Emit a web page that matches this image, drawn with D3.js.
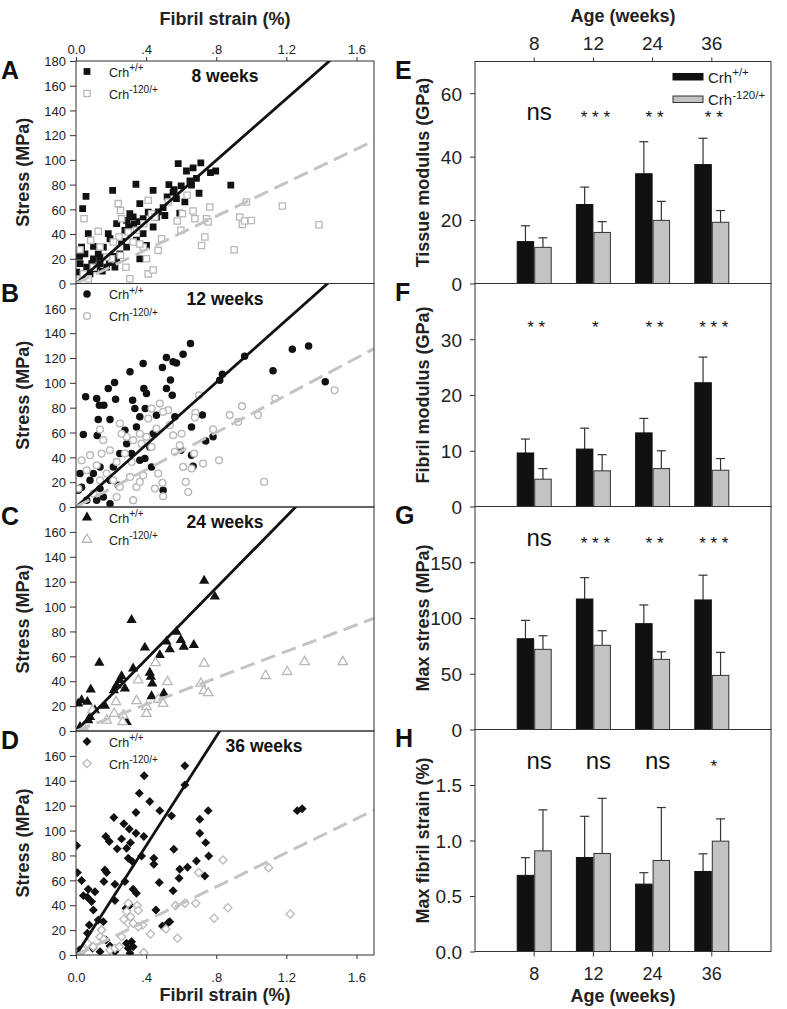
<!DOCTYPE html>
<html><head><meta charset="utf-8">
<script src="https://cdn.jsdelivr.net/npm/d3@7"></script>
<style>body{margin:0;background:#fff} svg{display:block} text{font-family:'Liberation Sans',Arial,sans-serif}</style>
</head><body>
<script>
// ---------------- DATA ----------------
const strainTicks = [0, 0.4, 0.8, 1.2, 1.6];
const strainTickLabels = ["0.0", ".4", ".8", "1.2", "1.6"];
const stressTicksFirst = [0,20,40,60,80,100,120,140,160,180];
const stressTicks = [0,20,40,60,80,100,120,140,160];
const ageTitles = ["8 weeks","12 weeks","24 weeks","36 weeks"];
const leftLetters = ["A","B","C","D"];
const rightLetters = ["E","F","G","H"];
const seriesNames = ["Crh", "Crh"];
const seriesSup = ["+/+", "-120/+"];

// [fibril strain %, stress MPa]
const wt8 = [[0.057,70.5],[0.038,60.5],[0.209,75.4],[0.342,80.3],[0.44,75.4],[0.53,80],[0.583,97],[0.63,91],[0.668,93.5],[0.712,97.6],[0.687,85],[0.702,73],[0.659,79.5],[0.767,89.7],[0.797,91],[0.883,79.5],[0.554,74],[0.573,68.6],[0.621,66],[0.592,57],[0.497,61.4],[0.507,55],[0.412,57.8],[0.364,64.6],[0.307,56.5],[0.289,51],[0.232,48.4],[0.184,40.3],[0.194,36.2],[0.326,53.8],[0.383,52.4],[0.44,45.7],[0.459,53.8],[0.156,29.5],[0.127,24],[0.099,20],[0.07,40.3],[0.032,29.5],[0.051,24],[0.023,16],[0.004,9.2],[0.061,13.2],[0.108,11.9],[0.137,16],[0.175,13.2],[0.08,7.8],[0.232,18.6],[0.25,24],[0.289,29.5],[0.345,35],[0.383,40.3],[0.222,13.2],[0.279,43],[0.137,21.4],[0.402,30.8],[0.364,20],[0.042,7.8],[0.07,10.5],[0.3,46],[0.33,48],[0.36,50],[0.47,58],[0.52,70],[0.56,76],[0.6,79],[0.65,83],[0.1,30],[0.12,14],[0.15,10],[0.19,17],[0.21,22],[0.26,34],[0.02,22],[0.09,16]];
const mut8 = [[0.046,52.4],[0.023,27.3],[0.084,34.9],[0.127,42.2],[0.241,64.6],[0.254,59],[0.26,52.4],[0.245,37.6],[0.213,33.5],[0.203,20],[0.254,22.7],[0.285,13.2],[0.307,3.8],[0.345,43],[0.387,48.4],[0.412,67.3],[0.431,56.5],[0.45,53.8],[0.402,20],[0.412,7.8],[0.44,11],[0.383,29.5],[0.364,32],[0.469,26.8],[0.488,36.2],[0.526,66],[0.577,50.5],[0.598,43],[0.607,56.5],[0.634,71.4],[0.668,58.6],[0.678,52.4],[0.716,30.8],[0.735,37.6],[0.744,52.4],[0.763,61.9],[0.754,49.7],[0.902,27.3],[0.972,66],[0.934,53.8],[0.949,47.8],[0.962,50.5],[1.0,51],[1.177,62.7],[1.386,47.6],[0.042,7.8],[0.07,3.8],[0.004,2.4],[0.137,29.5],[0.175,21.4],[0.099,13.2],[0.298,41.6],[0.326,33.5]];
const wt12 = [[0.055,88.7],[0.042,58.3],[0.118,87.4],[0.133,82],[0.159,82],[0.184,95.4],[0.22,100.3],[0.226,86.8],[0.194,70.4],[0.127,70.4],[0.121,57.5],[0.308,108.9],[0.323,86],[0.336,79.3],[0.345,64.5],[0.383,115.6],[0.387,95.4],[0.402,91.4],[0.395,79.3],[0.364,72.6],[0.459,73.9],[0.493,112.4],[0.516,120.4],[0.539,102.2],[0.549,90],[0.554,117],[0.573,116],[0.611,123],[0.653,131.7],[0.516,95.4],[0.564,72.6],[0.659,64.5],[0.721,74],[0.74,53.2],[0.782,56.5],[0.82,102],[0.835,107],[0.962,121.5],[1.124,109.7],[1.234,127],[1.327,129.6],[1.422,100.8],[0.659,41.7],[0.668,32.8],[0.598,45.7],[0.497,13.4],[0.431,32.3],[0.364,37.6],[0.289,51],[0.279,61.8],[0.317,43],[0.25,43],[0.213,32.3],[0.194,21.5],[0.137,32.3],[0.099,26.9],[0.023,26.9],[0.013,13.4],[0.032,16],[0.061,5.4],[0.118,5.4],[0.156,8],[0.194,2.7],[0.241,17.5],[0.137,14.8],[0.08,21.5],[0.421,48.4],[0.326,5.4],[0.44,59],[0.393,39]];
const mut12 = [[1.475,94],[1.073,20.2],[1.038,74],[0.947,81.2],[0.877,74],[0.925,68.5],[1.137,87.4],[0.816,37.6],[0.782,62.6],[0.725,35],[0.702,90],[0.681,75.8],[0.678,72],[0.674,43],[0.659,31],[0.64,12],[0.626,20.2],[0.611,32.3],[0.602,59],[0.592,49.7],[0.564,44.4],[0.554,57.8],[0.535,65.9],[0.526,78],[0.478,83.3],[0.497,76.6],[0.459,63.2],[0.493,19.4],[0.497,8.6],[0.45,14.8],[0.469,26.9],[0.431,48.4],[0.412,71.2],[0.402,56.5],[0.374,51],[0.364,59],[0.326,53.8],[0.289,56.5],[0.25,67.2],[0.26,59],[0.232,36.3],[0.194,45.7],[0.156,53.8],[0.146,43],[0.137,62.4],[0.08,41.7],[0.032,37.6],[0.013,14.8],[0.061,29.6],[0.118,33.6],[0.175,26.9],[0.213,21.5],[0.25,16.1],[0.308,24.2],[0.345,16.1],[0.364,20.2],[0.383,25.5],[0.326,5.4],[0.232,8],[0.099,10.8],[0.137,21.5],[0.279,43],[0.317,36.3],[0.431,79.3]];
const wt24 = [[0.013,22],[0.032,24.7],[0.065,23.4],[0.084,33.3],[0.133,54.8],[0.08,11.3],[0.108,16.7],[0.165,20.2],[0.216,32.8],[0.232,36.8],[0.26,44],[0.279,34.1],[0.317,89.2],[0.326,50.3],[0.393,67],[0.421,46.8],[0.427,43.5],[0.435,38.2],[0.431,28],[0.478,61],[0.501,30.1],[0.516,71.8],[0.535,65.6],[0.573,79.8],[0.598,73.1],[0.615,67.7],[0.672,69.1],[0.731,120.7],[0.792,108],[0.289,7.3],[0.07,8.6],[0.023,3.2],[0.25,40.9]];
const mut24 = [[0.093,16.7],[0.218,14],[0.228,23.4],[0.27,12.6],[0.266,7.3],[0.345,24.2],[0.355,40.9],[0.402,19.4],[0.402,14],[0.454,54.8],[0.469,25.3],[0.497,22],[0.522,39.5],[0.712,38.2],[0.731,54.3],[0.729,32.3],[0.754,30.6],[1.082,44.4],[1.205,47.6],[1.304,55.6],[1.522,55.6],[0.175,8.6],[0.042,3.2]];
const wt36 = [[0.004,87.9],[0.008,66.2],[0.032,59.8],[0.042,47.7],[0.065,46.4],[0.07,52.8],[0.108,50.9],[0.089,42.9],[0.099,36.2],[0.076,24.1],[0.065,17.4],[0.127,28.2],[0.156,26.8],[0.146,20.1],[0.165,68.4],[0.175,66.2],[0.159,59],[0.17,95.2],[0.19,91.2],[0.216,110.5],[0.222,56.8],[0.222,43.7],[0.235,85.3],[0.26,93.3],[0.273,105.4],[0.289,85.8],[0.298,77.7],[0.304,101.3],[0.311,90.3],[0.323,75],[0.279,59],[0.326,52.8],[0.345,49.6],[0.342,97.9],[0.361,130],[0.342,114.5],[0.374,79.6],[0.387,95.2],[0.389,144],[0.421,123.3],[0.444,77.7],[0.444,72.9],[0.456,36.2],[0.478,116],[0.475,58.2],[0.493,23.3],[0.526,26],[0.545,111.8],[0.558,85],[0.554,51.7],[0.588,61.7],[0.592,68.9],[0.621,136.7],[0.621,152],[0.636,70.5],[0.687,75.6],[0.706,109.1],[0.706,97.9],[0.735,63.5],[0.74,90.3],[0.754,116],[0.757,79.6],[1.262,116],[1.29,117.5],[0.285,37.5],[0.308,40.2],[0.019,4],[0.095,5.4],[0.137,2.7],[0.171,12],[0.194,7.2],[0.222,2.7],[0.288,9.4],[0.298,5.4],[0.308,1.5],[0.317,10.7],[0.326,6.7],[0.535,26.8]];
const mut36 = [[0.065,9.4],[0.099,6.7],[0.137,14.7],[0.146,20.1],[0.159,12.6],[0.194,4],[0.222,5.4],[0.26,14.7],[0.273,28.7],[0.289,34.9],[0.298,25.5],[0.311,30.8],[0.326,25.5],[0.349,39.7],[0.355,35.7],[0.38,24.1],[0.355,22.8],[0.387,1.9],[0.425,16.9],[0.513,20.9],[0.568,39.7],[0.579,13.4],[0.621,41.6],[0.683,41.6],[0.7,66.2],[0.788,29.5],[0.839,76.4],[0.866,38],[1.099,70.2],[1.222,33],[0.298,41.6],[0.247,6.7],[0.042,4],[0.004,1]];

const wtSeries = [wt8, wt12, wt24, wt36];
const mutSeries = [mut8, mut12, mut24, mut36];
const slopeWT = [124.5, 125.4, 143.7, 219.5];
const slopeMut = [68, 75, 53.3, 68.5];
const markerShapes = ["square","circle","triangle","diamond"];

// bar panels
const ageCategories = ["8","12","24","36"];
const tissueWT = [13.2,24.9,34.6,37.5], tissueWTsd = [5.0,5.5,10.1,8.3];
const tissueMut = [11.4,16.1,19.9,19.3], tissueMutSd = [3.0,3.4,6.0,3.7];
const fibrilWT = [9.6,10.3,13.2,22.2], fibrilWTsd = [2.5,3.75,2.6,4.6];
const fibrilMut = [4.9,6.4,6.8,6.5], fibrilMutSd = [1.9,2.9,3.2,2.1];
const maxStressWT = [81.4,117,94.9,116.2], maxStressWTsd = [16.5,19.2,16.8,22.2];
const maxStressMut = [71.9,75.5,62.9,48.5], maxStressMutSd = [12.2,13.1,6.8,20.7];
const maxStrainWT = [0.686,0.847,0.607,0.721], maxStrainWTsd = [0.159,0.371,0.103,0.159];
const maxStrainMut = [0.907,0.883,0.82,0.994], maxStrainMutSd = [0.369,0.497,0.477,0.201];
const sigTissue = ["ns","***","**","**"];
const sigFibril = ["**","*","**","***"];
const sigStress = ["ns","***","**","***"];
const sigStrain = ["ns","ns","ns","*"];
const barTitles = ["Tissue modulus (GPa)","Fibril modulus (GPa)","Max stress (MPa)","Max fibril strain (%)"];
const barDomains = [[0,70],[0,40],[0,200],[0,2]];
const barTicks = [[0,20,40,60],[0,10,20,30],[0,50,100,150],[0,0.5,1.0,1.5]];

// ---------------- DRAW ----------------
const W = 787, H = 1009;
const svg = d3.select("body").append("svg").attr("width", W).attr("height", H);
const BORDER = "#333";

// ---- Left scatter panels ----
const LX0 = 76, LX1 = 374;
const leftTops = [61, 283.5, 507, 731];
const leftBots = [283.5, 507, 731, 955];
const x = d3.scaleLinear().domain([0, 1.7]).range([LX0, LX1]);

function markerPath(shape, filled) {
  const s = filled ? 1 : 0.85;
  if (shape === "square") return d3.symbol(d3.symbolSquare, 46 * s)();
  if (shape === "circle") return d3.symbol(d3.symbolCircle, 44 * s)();
  if (shape === "triangle") return d3.symbol(d3.symbolTriangle, 46 * s)();
  return d3.symbol(d3.symbolSquare, 40 * s)();
}
function styleAxis(g, fs) {
  g.select(".domain").remove();
  g.selectAll(".tick line").attr("stroke", BORDER);
  g.selectAll(".tick text").attr("fill", "#222").style("font-size", fs + "px")
    .style("font-family", "'Liberation Sans',Arial,sans-serif");
}
function crhLabel(sel, i, fs, supFs) {
  sel.append("tspan").text(seriesNames[i]);
  sel.append("tspan").attr("dy", -fs * 0.42).style("font-size", supFs + "px").text(seriesSup[i]);
}

leftTops.forEach((top, p) => {
  const bot = leftBots[p];
  const y = d3.scaleLinear().domain([0, 180]).range([bot, top]);
  const g = svg.append("g");
  const clipId = "clipL" + p;
  svg.append("clipPath").attr("id", clipId).append("rect")
    .attr("x", LX0).attr("y", top).attr("width", LX1 - LX0).attr("height", bot - top);

  const shape = markerShapes[p];
  const rot = shape === "diamond" ? " rotate(45)" : "";
  const pts = g.append("g").attr("clip-path", `url(#${clipId})`);
  pts.selectAll("path.wt").data(wtSeries[p]).join("path").attr("class", "wt")
    .attr("d", markerPath(shape, true))
    .attr("transform", d => `translate(${x(d[0])},${y(d[1])})${rot}`)
    .attr("fill", "#111");
  pts.selectAll("path.mut").data(mutSeries[p]).join("path").attr("class", "mut")
    .attr("d", markerPath(shape, false))
    .attr("transform", d => `translate(${x(d[0])},${y(d[1])})${rot}`)
    .attr("fill", "#fff").attr("stroke", "#b8b8b8").attr("stroke-width", 1.3);

  const lines = g.append("g").attr("clip-path", `url(#${clipId})`);
  lines.append("line").attr("x1", x(0)).attr("y1", y(0)).attr("x2", x(1.7)).attr("y2", y(slopeWT[p] * 1.7))
    .attr("stroke", "#111").attr("stroke-width", 2.8);
  lines.append("line").attr("x1", x(0)).attr("y1", y(0)).attr("x2", x(1.7)).attr("y2", y(slopeMut[p] * 1.7))
    .attr("stroke", "#c4c4c4").attr("stroke-width", 3).attr("stroke-dasharray", "15,7");

  // border
  g.append("rect").attr("x", LX0).attr("y", top).attr("width", LX1 - LX0).attr("height", bot - top)
    .attr("fill", "none").attr("stroke", BORDER).attr("stroke-width", 1);

  // y axis
  const ya = g.append("g").attr("transform", `translate(${LX0},0)`)
    .call(d3.axisLeft(y).tickValues(p === 0 ? stressTicksFirst : stressTicks).tickSize(6).tickPadding(4));
  styleAxis(ya, 13);
  ya.selectAll(".tick text").attr("dy", "0.36em");

  if (p === 0) {
    const xa = g.append("g").attr("transform", `translate(0,${top})`)
      .call(d3.axisTop(x).tickValues(strainTicks).tickFormat((d, i) => strainTickLabels[i]).tickSize(4).tickPadding(3));
    styleAxis(xa, 13);
    svg.append("text").attr("x", (LX0 + LX1) / 2).attr("y", 24.5).attr("text-anchor", "middle")
      .style("font-size", "18px").style("font-weight", "bold").attr("fill", "#222").text("Fibril strain (%)");
  }
  if (p === 3) {
    const xa = g.append("g").attr("transform", `translate(0,${bot})`)
      .call(d3.axisBottom(x).tickValues(strainTicks).tickFormat((d, i) => strainTickLabels[i]).tickSize(4).tickPadding(14));
    styleAxis(xa, 13);
    svg.append("text").attr("x", (LX0 + LX1) / 2).attr("y", 1001).attr("text-anchor", "middle")
      .style("font-size", "18px").style("font-weight", "bold").attr("fill", "#222").text("Fibril strain (%)");
  }

  // y title
  svg.append("text").attr("transform", `translate(29,${(top + bot) / 2}) rotate(-90)`).attr("text-anchor", "middle")
    .style("font-size", "18px").style("font-weight", "bold").attr("fill", "#222").text("Stress (MPa)");
  // letter
  svg.append("text").attr("x", 1).attr("y", top + 18).style("font-size", "25px").style("font-weight", "bold")
    .attr("fill", "#111").text(leftLetters[p]);
  // panel title
  svg.append("text").attr("x", p === 3 ? 264 : 225).attr("y", top + 21).attr("text-anchor", "middle")
    .style("font-size", "17.5px").style("font-weight", "bold").attr("fill", "#111").text(ageTitles[p]);
  // legend
  [0, 1].forEach(k => {
    const ly = top + 10.5 + k * 22;
    g.append("path").attr("d", markerPath(shape, k === 0))
      .attr("transform", `translate(87,${ly})${rot}`)
      .attr("fill", k === 0 ? "#111" : "#fff").attr("stroke", k === 0 ? "none" : "#b8b8b8").attr("stroke-width", 1.3);
    const t = g.append("text").attr("x", 109).attr("y", ly + 5).style("font-size", "12.5px").attr("fill", "#222");
    crhLabel(t, k, 12.5, 10);
  });
});

// ---- Right bar panels ----
const RX0 = 475, RX1 = 771;
const rightTops = [61.5, 283.5, 506.5, 729.5];
const rightBots = [283.5, 506.5, 729.5, 951.5];
const xb = d3.scaleBand().domain(ageCategories).range([RX0, RX1]).paddingInner(0).paddingOuter(0.5);
const barW = 17.5;
const barSets = [
  [tissueWT, tissueWTsd, tissueMut, tissueMutSd, sigTissue],
  [fibrilWT, fibrilWTsd, fibrilMut, fibrilMutSd, sigFibril],
  [maxStressWT, maxStressWTsd, maxStressMut, maxStressMutSd, sigStress],
  [maxStrainWT, maxStrainWTsd, maxStrainMut, maxStrainMutSd, sigStrain]
];
const sigOffsets = [51.5, 39, 32, 32];

rightTops.forEach((top, p) => {
  const bot = rightBots[p];
  const y = d3.scaleLinear().domain(barDomains[p]).range([bot, top]);
  const g = svg.append("g");
  const [wt, wtsd, mut, mutsd, sig] = barSets[p];
  const cx = c => xb(c) + xb.bandwidth() / 2;

  const groups = [
    {vals: wt, sd: wtsd, off: -barW, fill: "#111", stroke: "#111"},
    {vals: mut, sd: mutsd, off: 0, fill: "#c3c3c3", stroke: "#333"}
  ];
  groups.forEach(s => {
    g.selectAll(null).data(ageCategories).join("line")
      .attr("x1", (c) => cx(c) + s.off + barW / 2).attr("x2", (c) => cx(c) + s.off + barW / 2)
      .attr("y1", (c, i) => y(s.vals[i])).attr("y2", (c, i) => y(s.vals[i] + s.sd[i]))
      .attr("stroke", "#333").attr("stroke-width", 1.2);
    g.selectAll(null).data(ageCategories).join("line")
      .attr("x1", (c) => cx(c) + s.off + barW / 2 - 4.5).attr("x2", (c) => cx(c) + s.off + barW / 2 + 4.5)
      .attr("y1", (c, i) => y(s.vals[i] + s.sd[i])).attr("y2", (c, i) => y(s.vals[i] + s.sd[i]))
      .attr("stroke", "#333").attr("stroke-width", 1.2);
    g.selectAll(null).data(ageCategories).join("rect")
      .attr("x", c => cx(c) + s.off + 0.5).attr("width", barW - 1)
      .attr("y", (c, i) => y(s.vals[i])).attr("height", (c, i) => y(0) - y(s.vals[i]))
      .attr("fill", s.fill).attr("stroke", s.stroke).attr("stroke-width", 1);
  });

  g.selectAll(null).data(ageCategories).join("text")
    .attr("x", (c, i) => cx(c) + (sig[i] === "ns" ? 5 : 2))
    .attr("y", (c, i) => top + sigOffsets[p] + (sig[i] === "ns" ? 7 : 10))
    .attr("text-anchor", "middle").attr("fill", "#111")
    .style("font-size", (c, i) => sig[i] === "ns" ? "24px" : "17px")
    .text((c, i) => sig[i] === "ns" ? "ns" : sig[i].split("").join(" "));

  g.append("rect").attr("x", RX0).attr("y", top).attr("width", RX1 - RX0).attr("height", bot - top)
    .attr("fill", "none").attr("stroke", BORDER).attr("stroke-width", 1);

  const ya = g.append("g").attr("transform", `translate(${RX0},0)`)
    .call(d3.axisLeft(y).tickValues(barTicks[p]).tickSize(5).tickPadding(8)
      .tickFormat(p === 3 ? d3.format(".1f") : d3.format("d")));
  styleAxis(ya, 19);
  ya.selectAll(".tick text").attr("dy", "0.36em");

  if (p === 0) {
    const xa = g.append("g").attr("transform", `translate(0,${top})`)
      .call(d3.axisTop(xb).tickSize(4).tickPadding(8));
    styleAxis(xa, 19);
    svg.append("text").attr("x", (RX0 + RX1) / 2).attr("y", 22).attr("text-anchor", "middle")
      .style("font-size", "18px").style("font-weight", "bold").attr("fill", "#222").text("Age (weeks)");
    [0, 1].forEach(k => {
      const ly = top + 12 + k * 22.5;
      g.append("rect").attr("x", 673).attr("y", ly).attr("width", 30).attr("height", 6.5)
        .attr("fill", k === 0 ? "#111" : "#c3c3c3").attr("stroke", k === 0 ? "#111" : "#333").attr("stroke-width", 1);
      const t = g.append("text").attr("x", 708).attr("y", ly + 9).style("font-size", "15px").attr("fill", "#222");
      crhLabel(t, k, 15, 11.5);
    });
  }
  if (p === 3) {
    const xa = g.append("g").attr("transform", `translate(0,${bot})`)
      .call(d3.axisBottom(xb).tickSize(5).tickPadding(11));
    styleAxis(xa, 18);
    svg.append("text").attr("x", (RX0 + RX1) / 2).attr("y", 1002).attr("text-anchor", "middle")
      .style("font-size", "18px").style("font-weight", "bold").attr("fill", "#222").text("Age (weeks)");
  }
  svg.append("text").attr("transform", `translate(429,${(top + bot) / 2}) rotate(-90)`).attr("text-anchor", "middle")
    .style("font-size", "18px").style("font-weight", "bold").attr("fill", "#222").text(barTitles[p]);
  svg.append("text").attr("x", 395).attr("y", top + 17).style("font-size", "25px").style("font-weight", "bold")
    .attr("fill", "#111").text(rightLetters[p]);
});
</script>
</body></html>
